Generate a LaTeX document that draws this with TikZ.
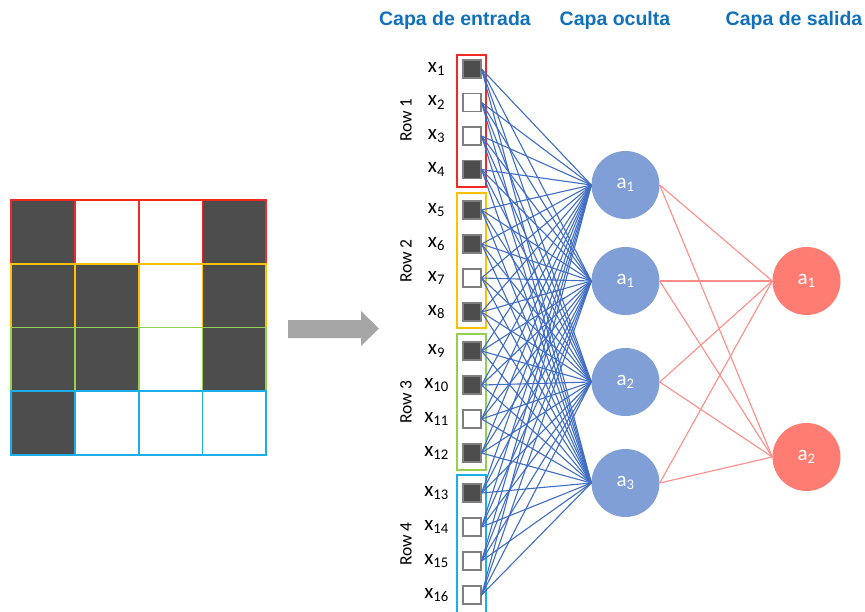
\documentclass[tikz,border=0pt]{standalone}
\usepackage{fontspec}
\setmainfont{Carlito}
\newfontfamily\titlefont{Liberation Sans}
\definecolor{cellgray}{HTML}{4D4D4D}
\definecolor{boxgray}{HTML}{7F7F7F}
\definecolor{rowred}{HTML}{F02828}
\definecolor{roworange}{HTML}{FFC000}
\definecolor{rowgreen}{HTML}{92D050}
\definecolor{rowblue}{HTML}{1AAEEA}
\definecolor{hidblue}{HTML}{7F9FD6}
\definecolor{outred}{HTML}{FF7C72}
\definecolor{lineblue}{HTML}{3F6CC4}
\definecolor{linered}{HTML}{FF8C86}
\definecolor{titleblue}{HTML}{1170BA}
\definecolor{arrowgray}{HTML}{A6A6A6}
\begin{document}
\begin{tikzpicture}[x=1pt,y=-1pt,
  darkbox/.style={draw=boxgray, fill=cellgray, line width=1.1pt, minimum size=18pt, inner sep=0pt},
  lightbox/.style={draw=boxgray, fill=white, line width=1.1pt, minimum size=18pt, inner sep=0pt},
  groupbox/.style={line width=1.1pt, minimum width=29pt, inner sep=0pt},
  hid/.style={circle, fill=hidblue, minimum size=68pt, inner sep=0pt, text=white, font=\fontsize{21}{23}\selectfont},
  outn/.style={circle, fill=outred, minimum size=68pt, inner sep=0pt, text=white, font=\fontsize{21}{23}\selectfont},
  wblue/.style={draw=lineblue, line width=1.1pt},
  wred/.style={draw=linered, line width=1.1pt},
  xlab/.style={font=\fontsize{21}{23}\selectfont, inner sep=0pt},
  rowlab/.style={rotate=90, font=\fontsize{17.5}{19}\selectfont, inner sep=0pt},
  titlelab/.style={font=\titlefont\bfseries\fontsize{19.5}{22}\selectfont, text=titleblue, inner sep=0pt},
  cell/.style={line width=1.1pt}
]
\useasboundingbox (0,0) rectangle (865,611);

% titles
\node[titlelab] (t1) at (455,20) {Capa de entrada};
\node[titlelab] (t2) at (615,20) {Capa oculta};
\node[titlelab] (t3) at (794,20) {Capa de salida};

% left grid
\foreach \r/\ya/\yb/\col/\pa/\pb/\pc/\pd in {
  1/200/264/rowred/cellgray/white/white/cellgray,
  2/264/327.5/roworange/cellgray/cellgray/white/cellgray,
  3/327.5/391/rowgreen/cellgray/cellgray/white/cellgray,
  4/391/455/rowblue/cellgray/white/white/white}{
  \filldraw[cell, draw=\col, fill=\pa] (11,\ya) rectangle (75,\yb);
  \filldraw[cell, draw=\col, fill=\pb] (75,\ya) rectangle (139,\yb);
  \filldraw[cell, draw=\col, fill=\pc] (139,\ya) rectangle (202.5,\yb);
  \filldraw[cell, draw=\col, fill=\pd] (202.5,\ya) rectangle (266,\yb);
}

% block arrow
\fill[arrowgray] (288,320) -- (361,320) -- (361,311) -- (379,328.5) -- (361,346) -- (361,338) -- (288,338) -- cycle;

% group boxes
\node[groupbox, draw=rowred, minimum height=132pt] (g1) at (471.5,121) {};
\node[groupbox, draw=roworange, minimum height=135pt] (g2) at (471.5,260.5) {};
\node[groupbox, draw=rowgreen, minimum height=136pt] (g3) at (471.5,402) {};
\node[groupbox, draw=rowblue, minimum height=145pt] (g4) at (471.5,547.5) {};

% row labels
\node[rowlab] (r1) at (406,120) {Row 1};
\node[rowlab] (r2) at (406,261) {Row 2};
\node[rowlab] (r3) at (406,402) {Row 3};
\node[rowlab] (r4) at (406,544) {Row 4};

% inputs
\foreach \i/\y/\t in {1/69/darkbox, 2/102.5/lightbox, 3/136/lightbox, 4/169.5/darkbox,
  5/210/darkbox, 6/244/darkbox, 7/278/lightbox, 8/312/darkbox,
  9/351/darkbox, 10/385/darkbox, 11/419/lightbox, 12/453/darkbox,
  13/493/darkbox, 14/527/lightbox, 15/561/lightbox, 16/595/lightbox}{
  \node[\t] (in\i) at (472,\y) {};
  \node[xlab] (lab\i) at (436.5,\y) {x\textsubscript{\i}};
}

% hidden layer
\node[hid] (h1) at (625.5,185) {a\textsubscript{1}};
\node[hid] (h2) at (625.5,281) {a\textsubscript{1}};
\node[hid] (h3) at (625.5,382) {a\textsubscript{2}};
\node[hid] (h4) at (625.5,483) {a\textsubscript{3}};

% output layer
\node[outn] (o1) at (806.5,281) {a\textsubscript{1}};
\node[outn] (o2) at (806.5,457) {a\textsubscript{2}};

% connections
\foreach \i in {1,...,16}{
  \foreach \j in {1,...,4}{
    \draw[wblue] (in\i.east) -- (h\j.west);
  }
}
\foreach \j in {1,...,4}{
  \foreach \k in {1,2}{
    \draw[wred] (h\j.east) -- (o\k.west);
  }
}
\end{tikzpicture}
\end{document}
